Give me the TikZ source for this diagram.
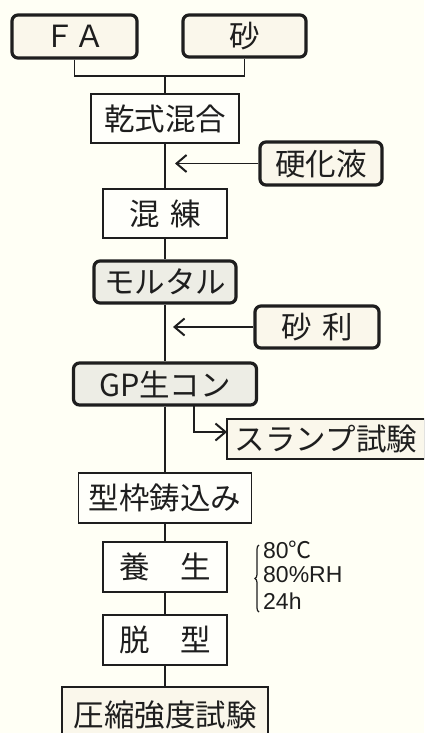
\documentclass[tikz,border=0pt]{standalone}
\usepackage{fontspec}
\newfontfamily\jp{Noto Sans CJK JP}
\newfontfamily\lat{Liberation Sans}
\usetikzlibrary{arrows.meta,decorations.pathreplacing}
\definecolor{bgc}{HTML}{FFFFF5}
\definecolor{cream}{HTML}{FAF7EB}
\definecolor{grayf}{HTML}{EDEDE5}
\definecolor{whitef}{HTML}{FFFFFA}
\definecolor{ink}{HTML}{1E1E1E}
\tikzset{
  base/.style={rectangle, inner sep=0pt, draw=ink, text=ink, font=\jp\fontsize{30.5}{35}\selectfont},
  thickbox/.style={base, line width=3.2pt, rounded corners=6pt, fill=cream},
  graybox/.style={base, line width=3.2pt, rounded corners=6pt, fill=grayf},
  plainbox/.style={base, line width=1.8pt, fill=whitef},
  creambox/.style={base, line width=1.8pt, fill=cream},
  conn/.style={line width=1.8pt, draw=ink},
  arr/.style={conn, -{Straight Barb[length=10pt,width=17pt,line width=2pt]}},
  note/.style={anchor=west, inner sep=0pt, text=ink, font=\lat\fontsize{23}{26}\selectfont}
}
\begin{document}
\begin{tikzpicture}[x=1pt,y=-1pt]
\useasboundingbox (0,0) rectangle (424,733);
\fill[bgc] (0,0) rectangle (424,733);
\begin{scope}
\clip (0,0) rectangle (424,733);
\node[thickbox, minimum width=125pt, minimum height=43pt] (fa) at (74.5,36.5) {ＦＡ};
\node[thickbox, minimum width=123pt, minimum height=42pt] (suna) at (244.5,36) {砂};
\node[plainbox, minimum width=148pt, minimum height=49pt] (kanshiki) at (165,118.5) {乾式混合};
\node[thickbox, minimum width=122pt, minimum height=43pt] (kouka) at (321,163.5) {硬化液};
\node[plainbox, minimum width=124pt, minimum height=49pt] (konren) at (165,213.5) {混\hspace{0.33em}練};
\node[graybox, minimum width=142pt, minimum height=42pt] (mortar) at (165,282) {モルタル};
\node[thickbox, minimum width=124pt, minimum height=42pt] (jari) at (317,327) {砂\hspace{0.33em}利};
\node[graybox, minimum width=183pt, minimum height=42pt] (gp) at (165,384) {GP生コン};
\node[creambox, minimum width=198pt, minimum height=40pt] (slump) at (326,439) {スランプ試験};
\node[plainbox, minimum width=173pt, minimum height=50pt] (kata) at (165,498) {型枠鋳込み};
\node[plainbox, minimum width=124pt, minimum height=50pt] (yousei) at (165,567) {養\hspace{1em}生};
\node[plainbox, minimum width=124pt, minimum height=50pt] (datsu) at (165,640) {脱\hspace{1em}型};
\node[creambox, minimum width=206pt, minimum height=56pt] (asshuku) at (165,715) {圧縮強度試験};

\coordinate (j) at (165,76);
\draw[conn] (fa.south) |- (j) -| (suna.south);
\draw[conn] (j) -- (kanshiki.north);
\draw[conn] (kanshiki.south) -- (konren.north);
\draw[conn] (konren.south) -- (mortar.north);
\draw[conn] (mortar.south) -- (gp.north);
\draw[conn] (gp.south) -- (kata.north);
\draw[conn] (kata.south) -- (yousei.north);
\draw[conn] (yousei.south) -- (datsu.north);
\draw[conn] (datsu.south) -- (asshuku.north);

\coordinate (a1) at (175,163.5);
\draw[arr] (kouka.west) -- (a1);
\coordinate (a2) at (173,327);
\draw[arr] (jari.west) -- (a2);
\coordinate (b0) at (194,405);
\coordinate (b1) at (227,432);
\draw[arr] (b0) |- (b1);

\draw[line width=1.2pt, draw=ink, decorate, decoration={brace, amplitude=4pt}] (259,612) -- (259,545);
\node[note] (t1) at (263,550) {80{\jp ℃}};
\node[note] (t2) at (263,575) {80\%RH};
\node[note] (t3) at (263,601) {24h};
\end{scope}
\end{tikzpicture}
\end{document}
